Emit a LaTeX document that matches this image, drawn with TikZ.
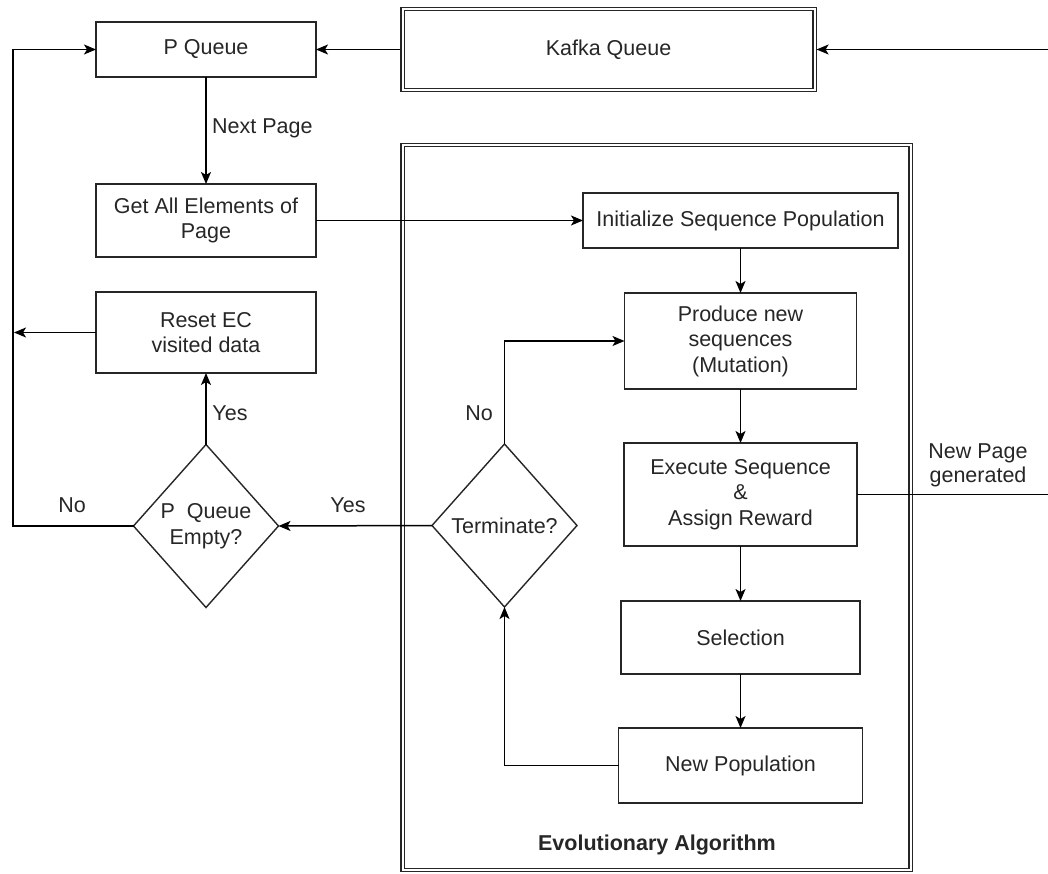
\documentclass[tikz,border=0pt]{standalone}
\usepackage{fontspec}
\setmainfont{Liberation Sans}
\usetikzlibrary{arrows.meta,shapes.geometric}
\begin{document}
\begin{tikzpicture}[x=1pt,y=-1pt,
  every node/.style={font=\fontsize{21.5}{25.5}\selectfont, text=black!85},
  box/.style={draw=black!85, line width=1.5pt, rectangle, inner sep=0pt, outer sep=0pt, align=center},
  dbox/.style={draw=black!85, line width=1.1pt, double, double distance=2pt, rectangle, inner sep=0pt, outer sep=2.1pt, align=center},
  dia/.style={draw=black!85, line width=1.4pt, diamond, inner sep=0pt, outer sep=0pt, align=center, minimum width=145pt, minimum height=163pt},
  conn/.style={draw=black, line width=1.5pt},
  arr/.style={conn, -{Stealth[length=12pt,width=10pt,inset=3pt]}},
  lbl/.style={inner sep=0pt}
]
\useasboundingbox (0,0) rectangle (1048,874);

% containers
\node[dbox, minimum width=508pt, minimum height=725pt] (ea) at (656.5,507.5) {};
\node[font=\fontsize{21.5}{25.5}\selectfont\bfseries, text=black!85] (eat) at (657,845) {Evolutionary Algorithm};
\node[dbox, minimum width=412pt, minimum height=81pt] (kafka) at (608.5,49.5) {Kafka Queue};

% left column
\node[box, minimum width=220pt, minimum height=55pt] (pq) at (206,49.5) {P Queue};
\node[box, minimum width=220pt, minimum height=73pt] (getall) at (206,220.5) {Get All Elements of\\Page};
\node[box, minimum width=220pt, minimum height=81pt] (reset) at (206,332.5) {Reset EC\\visited data};
\node[dia] (pqe) at (206,526) {P\ \ Queue\\Empty?};

% EA column
\node[box, minimum width=315pt, minimum height=55pt] (init) at (740.5,220.5) {Initialize Sequence Population};
\node[box, minimum width=232pt, minimum height=96pt] (prod) at (740.5,341) {Produce new\\sequences\\(Mutation)};
\node[box, minimum width=233pt, minimum height=103pt] (exec) at (740.5,494.5) {Execute Sequence\\\&\\Assign Reward};
\node[box, minimum width=239pt, minimum height=73pt] (sel) at (740.5,637.5) {Selection};
\node[box, minimum width=244pt, minimum height=75pt] (newpop) at (740.5,765.5) {New Population};
\node[dia] (term) at (504.5,525.5) {Terminate?};

% free ends
\coordinate (kin) at (1048,49.5);
\coordinate (pout) at (1048,494.5);
\coordinate (lcorner) at (13,526);
\coordinate (resetend) at (14,332.5);

% connectors
\draw[arr] (kin) -- (kafka.east);
\draw[arr] (kafka.west) -- (pq.east);
\draw[arr] (pq.south) -- (getall.north);
\draw[arr] (getall.east) -- (init.west);
\draw[arr] (init.south) -- (prod.north);
\draw[arr] (prod.south) -- (exec.north);
\draw[arr] (exec.south) -- (sel.north);
\draw[arr] (sel.south) -- (newpop.north);
\draw[arr] (newpop.west) -| (term.south);
\draw[arr] (term.north) |- (prod.west);
\draw[arr] (term.west) -- (pqe.east);
\draw[arr] (pqe.north) -- (reset.south);
\draw[arr] (reset.west) -- (resetend);
\draw[arr] (pqe.west) -- (lcorner) |- (pq.west);
\draw[conn] (exec.east) -- (pout);

% labels
\node[lbl, anchor=west] (lnext) at (212,128) {Next Page};
\node[lbl] (lno1) at (479,413) {No};
\node[lbl] (lyes1) at (348,505) {Yes};
\node[lbl] (lyes2) at (230,413) {Yes};
\node[lbl] (lno2) at (72,505) {No};
\node[lbl, align=center, font=\fontsize{21.5}{24}\selectfont] (lnew) at (978,465) {New Page\\generated};
\end{tikzpicture}
\end{document}
